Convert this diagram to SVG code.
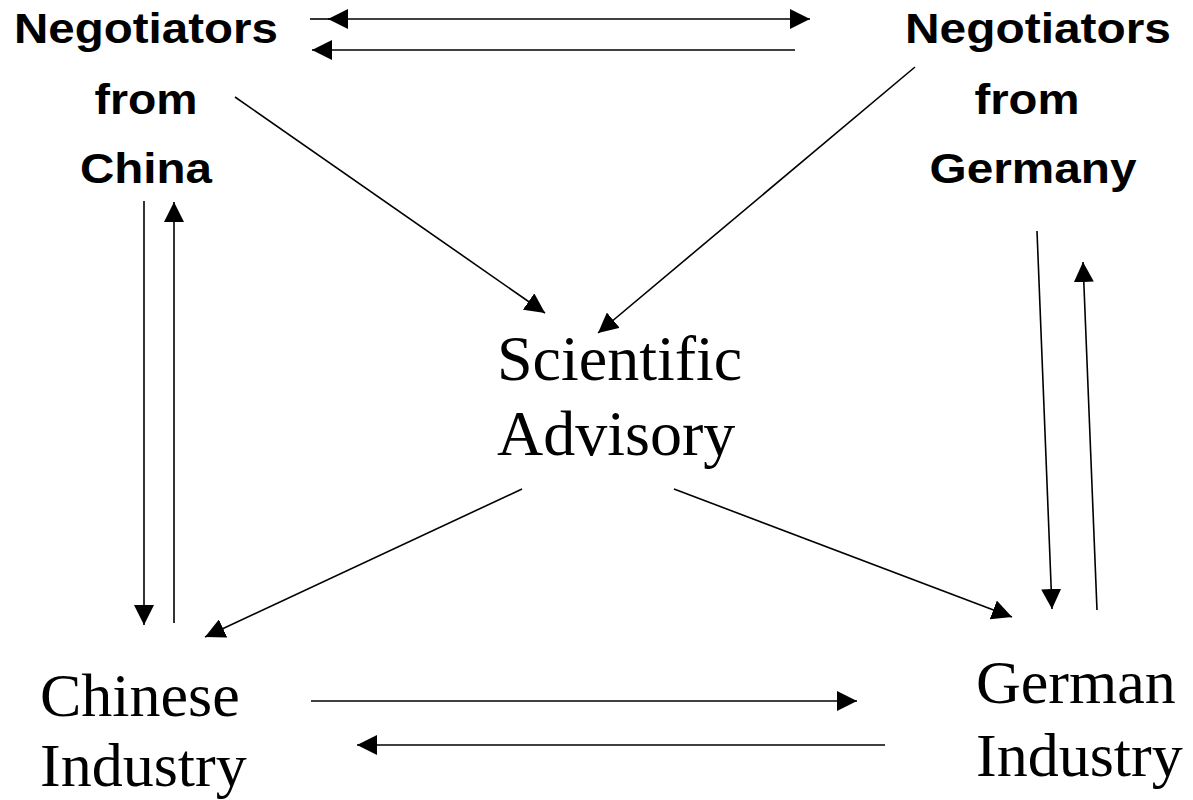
<svg xmlns="http://www.w3.org/2000/svg" width="1193" height="800" viewBox="0 0 1193 800">
<style>
.bold{font-family:"Liberation Sans",Arial,sans-serif;font-weight:bold;font-size:42px;fill:#000;text-anchor:middle}
.ser{font-family:"Liberation Serif","Times New Roman",serif;font-size:64px;fill:#000}
.ser2{font-family:"Liberation Serif","Times New Roman",serif;font-size:62px;fill:#000}
.c line{stroke:#000;stroke-width:1.6;fill:none}
.a{marker-end:url(#ah)}
</style>
<defs>
<marker id="ah" markerUnits="userSpaceOnUse" markerWidth="20" markerHeight="20" refX="20" refY="10" orient="auto-start-reverse" viewBox="0 0 20 20">
<path d="M0,0 L20,10 L0,20 z" fill="#000"/>
</marker>
</defs>
<rect width="1193" height="800" fill="#fff"/>
<g id="negotiators-china">
<text class="bold" x="146" y="43" textLength="264" lengthAdjust="spacingAndGlyphs">Negotiators</text>
<text class="bold" x="146" y="114" textLength="103" lengthAdjust="spacingAndGlyphs">from</text>
<text class="bold" x="146" y="183" textLength="132" lengthAdjust="spacingAndGlyphs">China</text>
</g>
<g id="negotiators-germany">
<text class="bold" x="1038" y="43" textLength="266" lengthAdjust="spacingAndGlyphs">Negotiators</text>
<text class="bold" x="1027" y="114" textLength="105" lengthAdjust="spacingAndGlyphs">from</text>
<text class="bold" x="1033" y="183" textLength="207" lengthAdjust="spacingAndGlyphs">Germany</text>
</g>
<g id="scientific-advisory">
<text class="ser" x="497" y="380">Scientific</text>
<text class="ser" x="497" y="455">Advisory</text>
</g>
<g id="chinese-industry">
<text class="ser2" x="40" y="716">Chinese</text>
<text class="ser2" x="40" y="786">Industry</text>
</g>
<g id="german-industry">
<text class="ser2" x="976" y="703">German</text>
<text class="ser2" x="976" y="776">Industry</text>
</g>
<g id="connectors" class="c">
<line x1="310" y1="19" x2="330" y2="19"/>
<line x1="328" y1="19" x2="810" y2="19" style="marker-start:url(#ah);marker-end:url(#ah)"/>
<line class="a" x1="795" y1="50" x2="312" y2="50"/>
<line class="a" x1="144" y1="201" x2="144" y2="625"/>
<line class="a" x1="174" y1="623" x2="174" y2="202"/>
<line class="a" x1="1037" y1="231" x2="1052" y2="609"/>
<line class="a" x1="1097" y1="610" x2="1083" y2="262"/>
<line class="a" x1="235" y1="97" x2="545" y2="313"/>
<line class="a" x1="915" y1="67" x2="598" y2="333"/>
<line class="a" x1="522" y1="489" x2="205" y2="637"/>
<line class="a" x1="674" y1="489" x2="1012" y2="617"/>
<line class="a" x1="311" y1="701" x2="857" y2="701"/>
<line class="a" x1="885" y1="745" x2="357" y2="745"/>
</g>
</svg>
